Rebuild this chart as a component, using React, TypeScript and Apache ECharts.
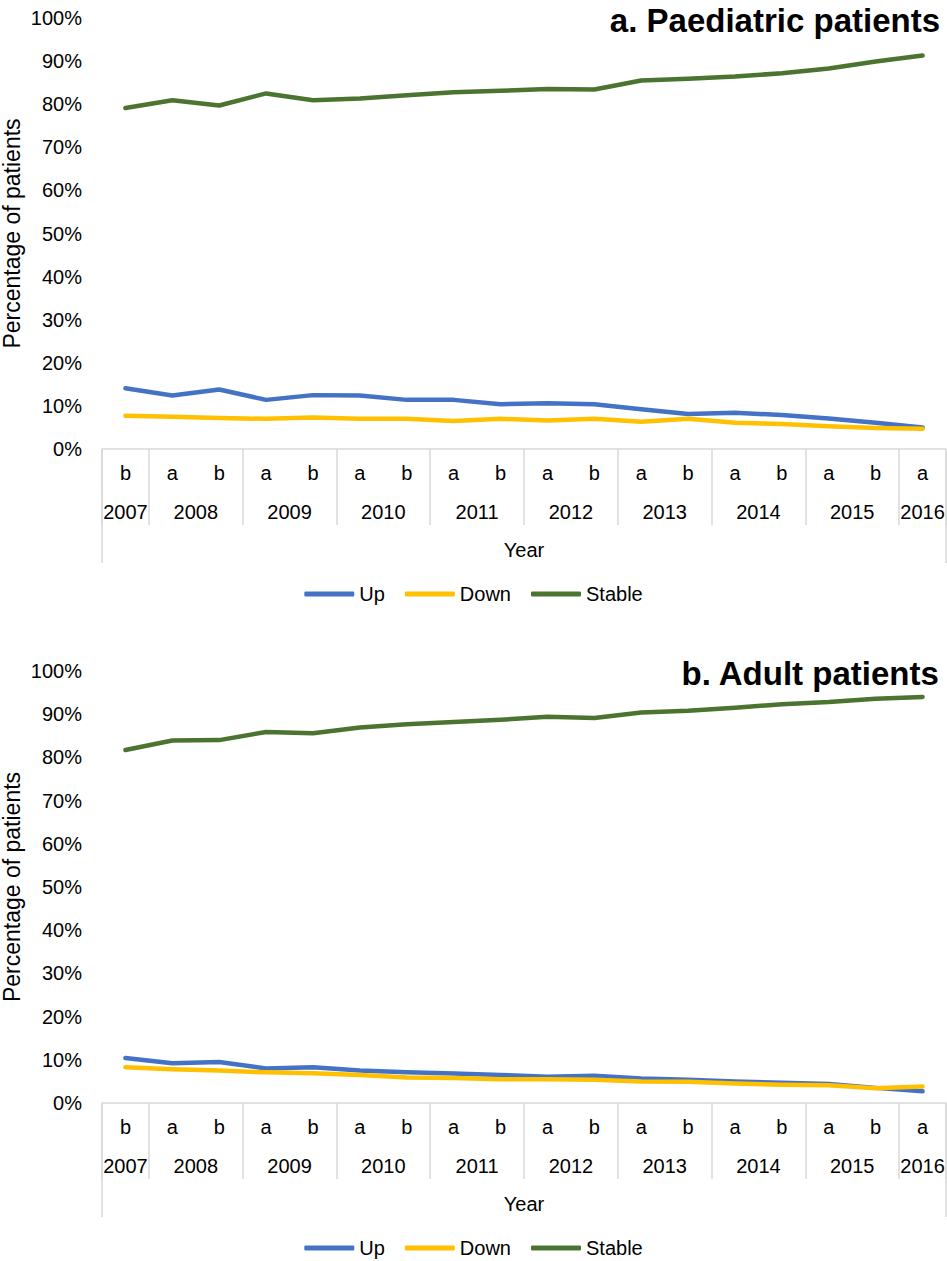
import React, { useEffect, useRef } from 'react';
import * as echarts from 'echarts';

// ---- data ----
const subLabels = ['b', 'a', 'b', 'a', 'b', 'a', 'b', 'a', 'b', 'a', 'b', 'a', 'b', 'a', 'b', 'a', 'b', 'a'];
const categoryYears = ['2007', '2008', '2008', '2009', '2009', '2010', '2010', '2011', '2011', '2012', '2012', '2013', '2013', '2014', '2014', '2015', '2015', '2016'];
const years = ['2007', '2008', '2009', '2010', '2011', '2012', '2013', '2014', '2015', '2016'];
const seriesNames = ['Up', 'Down', 'Stable'];
const seriesColors = ['#4472C4', '#FFC000', '#4A7430'];
const titles = ['a. Paediatric patients', 'b. Adult patients'];

const pedUp = [14.1, 12.4, 13.8, 11.4, 12.5, 12.4, 11.4, 11.4, 10.4, 10.6, 10.4, 9.2, 8.1, 8.4, 7.9, 7.1, 6.1, 5.0];
const pedDown = [7.7, 7.5, 7.2, 7.0, 7.3, 7.0, 7.0, 6.5, 7.0, 6.6, 7.0, 6.3, 7.0, 6.1, 5.8, 5.3, 4.9, 4.7];
const pedStable = [79.1, 80.9, 79.7, 82.5, 80.9, 81.3, 82.1, 82.8, 83.1, 83.5, 83.4, 85.5, 85.9, 86.4, 87.2, 88.3, 89.9, 91.3];

const adUp = [10.4, 9.2, 9.5, 8.0, 8.3, 7.5, 7.1, 6.8, 6.5, 6.1, 6.3, 5.7, 5.4, 5.0, 4.7, 4.4, 3.5, 2.7];
const adDown = [8.3, 7.8, 7.5, 7.1, 6.9, 6.5, 5.9, 5.8, 5.5, 5.5, 5.4, 5.0, 4.9, 4.5, 4.2, 4.1, 3.4, 3.8];
const adStable = [81.7, 83.9, 84.0, 85.9, 85.6, 86.9, 87.7, 88.2, 88.7, 89.4, 89.1, 90.4, 90.8, 91.5, 92.3, 92.8, 93.6, 94.0];

const panelData = [
  [pedUp, pedDown, pedStable],
  [adUp, adDown, adStable],
];

const FONT = '"Liberation Sans", Arial, Helvetica, sans-serif';
const GRID_LINE = '#d9d9d9';

// year label positions (center of each year's categories) and boundaries
const yearPositions = years.map((y) => {
  const idx = categoryYears.map((c, i) => (c === y ? i : -1)).filter((i) => i >= 0);
  return (idx[0] + idx[idx.length - 1]) / 2 + 0.5;
});
const boundaryIdx = new Set<number>(
  categoryYears.map((c, i) => (i === 0 || c !== categoryYears[i - 1] ? i : -1)).filter((i) => i >= 0)
);

const yearAt = (v: number) => {
  for (let i = 0; i < yearPositions.length; i++) {
    if (Math.abs(yearPositions[i] - v) < 1e-6) return years[i];
  }
  return '';
};

const gridTops = [18, 671];
const gridHeights = [431, 432];

function buildOption() {
  const n = subLabels.length;
  const grid: any[] = [];
  const xAxis: any[] = [];
  const yAxis: any[] = [];
  const series: any[] = [];
  const legend: any[] = [];
  const title: any[] = [];

  [0, 1].forEach((g) => {
    const axisBottom = gridTops[g] + gridHeights[g];
    grid.push({
      left: 102,
      right: 1,
      top: gridTops[g],
      height: gridHeights[g],
      containLabel: false,
      outerBoundsMode: 'none',
    });
    yAxis.push({
      type: 'value',
      gridIndex: g,
      min: 0,
      max: 100,
      interval: 10,
      axisLine: { show: false },
      axisTick: { show: false },
      splitLine: { show: false },
      axisLabel: { formatter: '{value}%', fontSize: 20, color: '#000', fontFamily: FONT, margin: 20 },
      name: 'Percentage of patients',
      nameLocation: 'middle',
      nameGap: 79,
      nameMoveOverlap: false,
      nameTextStyle: { fontSize: 23, color: '#000', fontFamily: FONT },
    });
    xAxis.push({
      type: 'category',
      gridIndex: g,
      position: 'bottom',
      data: subLabels,
      boundaryGap: true,
      axisLine: { show: true, lineStyle: { color: GRID_LINE, width: 1.5 } },
      axisTick: {
        show: true,
        interval: (index: number) => boundaryIdx.has(index),
        length: 76,
        lineStyle: { color: GRID_LINE, width: 1.5 },
      },
      axisLabel: { interval: 0, fontSize: 20, color: '#000', fontFamily: FONT, margin: 14 },
      splitLine: { show: false },
    });
    xAxis.push({
      type: 'value',
      gridIndex: g,
      position: 'bottom',
      offset: 0,
      min: 0,
      max: n,
      axisLine: { show: false },
      splitLine: { show: false },
      axisTick: {
        show: true,
        customValues: [0, n],
        length: 114,
        lineStyle: { color: GRID_LINE, width: 1.5 },
      },
      axisLabel: {
        customValues: yearPositions,
        formatter: (v: number) => yearAt(v),
        fontSize: 20,
        color: '#000',
        fontFamily: FONT,
        margin: 53,
      },
      name: 'Year',
      nameLocation: 'middle',
      nameGap: 91,
      nameMoveOverlap: false,
      nameTextStyle: { fontSize: 20, color: '#000', fontFamily: FONT },
    });
    seriesNames.forEach((name, s) => {
      series.push({
        type: 'line',
        name,
        xAxisIndex: g * 2,
        yAxisIndex: g,
        data: panelData[g][s],
        symbol: 'none',
        color: seriesColors[s],
        lineStyle: { width: 4.5, color: seriesColors[s], cap: 'round', join: 'round' },
      });
    });
    legend.push({
      data: seriesNames,
      left: 'center',
      top: axisBottom + 135,
      padding: 0,
      icon: 'roundRect',
      itemWidth: 50,
      itemHeight: 5,
      itemGap: 20,
      textStyle: { fontSize: 20, color: '#000', fontFamily: FONT },
      selectedMode: false,
    });
    title.push({
      text: titles[g],
      right: 7,
      top: g === 0 ? 4 : 657,
      padding: 0,
      textStyle: { fontSize: 33, fontWeight: 'bold', color: '#000', fontFamily: FONT },
    });
  });

  return {
    animation: false,
    backgroundColor: '#fff',
    title,
    legend,
    grid,
    xAxis,
    yAxis,
    series,
  };
}

export default function App() {
  const ref = useRef<HTMLDivElement>(null);
  useEffect(() => {
    if (!ref.current) return;
    const chart = echarts.init(ref.current, undefined, { renderer: 'svg' });
    chart.setOption(buildOption() as any);
    return () => chart.dispose();
  }, []);
  return (
    <div
      ref={ref}
      style={{ position: 'absolute', left: 0, top: 0, width: 947, height: 1261, background: '#fff' }}
    />
  );
}
